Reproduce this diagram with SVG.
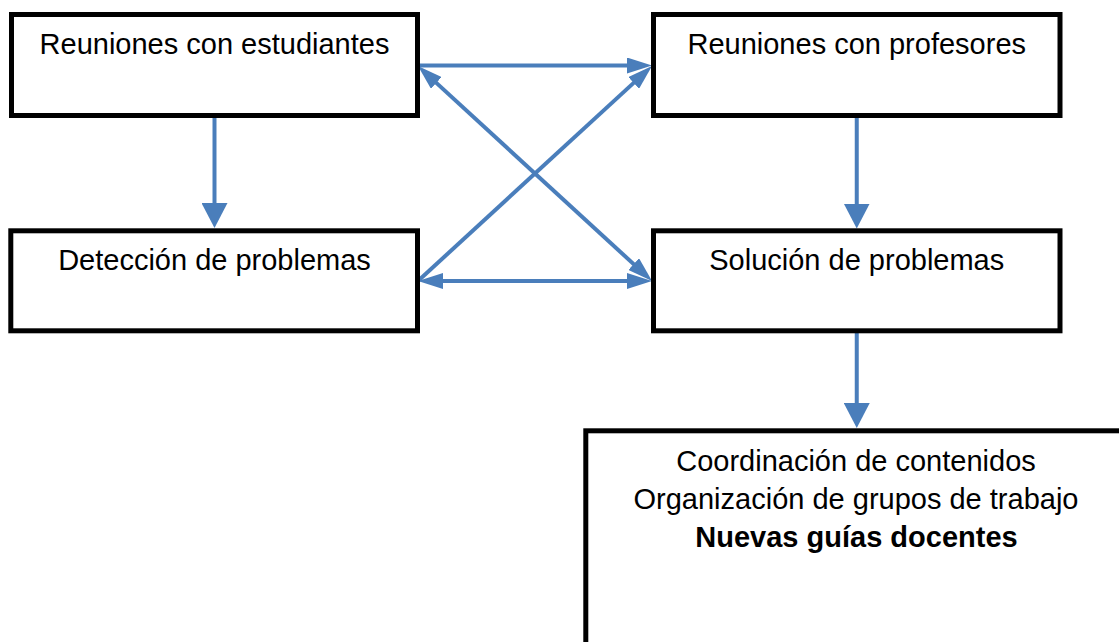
<svg xmlns="http://www.w3.org/2000/svg" width="1119" height="642" viewBox="0 0 1119 642">
  <style>
    .box { fill: #FFFFFF; stroke: #000000; stroke-width: 5; }
    .lbl { font-family: "Liberation Sans", Arial, sans-serif; font-size: 29px; fill: #000000; text-anchor: middle; }
    .bold { font-weight: bold; }
    .conn { stroke: #4A7EBB; stroke-width: 4; fill: none; }
  </style>
  <defs>
    <marker id="headS" markerUnits="userSpaceOnUse" markerWidth="25" markerHeight="16" viewBox="0 0 25 16" refX="13" refY="8" orient="auto-start-reverse">
      <path d="M0,0 L25,8 L0,16 Z" fill="#4A7EBB"/>
    </marker>
    <marker id="headL" markerUnits="userSpaceOnUse" markerWidth="25" markerHeight="26" viewBox="0 0 25 26" refX="13" refY="13" orient="auto-start-reverse">
      <path d="M0,0 L25,13 L0,26 Z" fill="#4A7EBB"/>
    </marker>
  </defs>
  <rect width="1119" height="642" fill="#FFFFFF"/>
  <g id="connectors">
    <line class="conn" x1="214.5" y1="116" x2="214.5" y2="216" marker-end="url(#headL)"/>
    <line class="conn" x1="856.75" y1="116" x2="856.75" y2="216.5" marker-end="url(#headL)"/>
    <line class="conn" x1="856.75" y1="331" x2="856.75" y2="416" marker-end="url(#headL)"/>
    <line class="conn" x1="418" y1="65.5" x2="640" y2="65.5" marker-end="url(#headS)"/>
    <line class="conn" x1="430" y1="281" x2="640" y2="281" marker-start="url(#headS)" marker-end="url(#headS)"/>
    <line class="conn" x1="418" y1="281" x2="643.2" y2="74.1" marker-end="url(#headS)"/>
    <line class="conn" x1="426.8" y1="74.1" x2="643.2" y2="272.9" marker-start="url(#headS)" marker-end="url(#headS)"/>
  </g>
  <g id="node-estudiantes">
    <rect class="box" x="11.5" y="14.5" width="406" height="101"/>
    <text class="lbl" x="214.5" y="53.5">Reuniones con estudiantes</text>
  </g>
  <g id="node-profesores">
    <rect class="box" x="653.5" y="14.5" width="406.5" height="101"/>
    <text class="lbl" x="856.75" y="53.5">Reuniones con profesores</text>
  </g>
  <g id="node-deteccion">
    <rect class="box" x="10.8" y="230.8" width="406.7" height="100"/>
    <text class="lbl" x="214.5" y="270">Detección de problemas</text>
  </g>
  <g id="node-solucion">
    <rect class="box" x="653.5" y="230.8" width="406.5" height="100"/>
    <text class="lbl" x="856.75" y="269.5">Solución de problemas</text>
  </g>
  <g id="node-resultados">
    <rect class="box" x="585.8" y="430.8" width="540" height="230"/>
    <text class="lbl" x="856" y="471">Coordinación de contenidos</text>
    <text class="lbl" x="856" y="509">Organización de grupos de trabajo</text>
    <text class="lbl bold" x="856.5" y="547">Nuevas guías docentes</text>
  </g>
</svg>
